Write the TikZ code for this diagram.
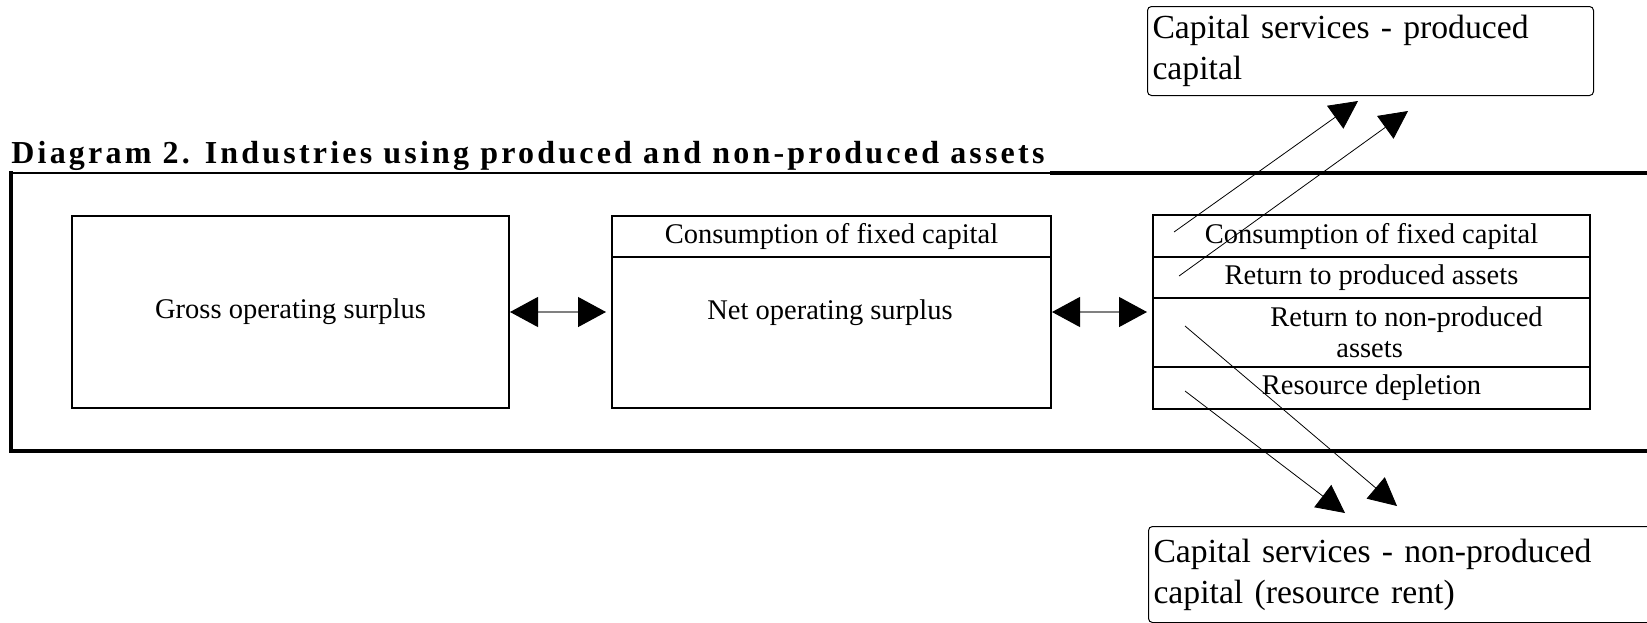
\documentclass[tikz,border=0pt]{standalone}
\usepackage{fontspec}
\setmainfont{Liberation Serif}
\newfontfamily\titlefont{Liberation Serif}[LetterSpace=10]
\usetikzlibrary{arrows.meta,calc}
\newcommand{\bodysize}{\fontsize{14.25}{15.5}\selectfont}
\newcommand{\capsize}{\fontsize{16.85}{20.5}\selectfont}
\tikzset{
  cell/.style={draw,line width=1pt,inner sep=0pt,font=\bodysize,align=center},
  txt/.style={inner sep=0pt,font=\bodysize,align=left},
  capbox/.style={draw,line width=.5pt,rounded corners=2pt,align=left,
                 font=\capsize,inner xsep=2.5pt,anchor=north west},
  frame/.style={line width=2pt},
  link/.style={{Triangle[length=14pt,width=15pt,color=black]}-{Triangle[length=14pt,width=15pt,color=black]},
               draw=black!50,line width=.6pt},
  flow/.style={-{Triangle[length=14pt,width=14pt]},line width=.4pt},
}

\begin{document}
\begin{tikzpicture}[x=0.5pt,y=-0.5pt]
  \useasboundingbox (0,0) rectangle (1647,622);
  % title and frame
  \node[anchor=base west,inner sep=0pt,font=\titlefont\bfseries\fontsize{16}{18}\selectfont]
    (title) at (11,163) {Diagram 2. Industries using produced and non-produced assets};
  \draw[line width=1pt] (11,173) -- (1050,173);
  \draw[frame] (1050,173) -- (1660,173);
  \draw[frame] (11,171) -- (11,451) -- (1660,451);
  % gross operating surplus
  \node[cell,minimum width=218.5pt,minimum height=96pt] (gos) at (290.5,312) {Gross operating surplus};
  % net operating surplus
  \node[cell,minimum width=219.5pt,minimum height=20.5pt] (netcfc) at (831.5,236.5) {Consumption of fixed capital};
  \node[cell,minimum width=219.5pt,minimum height=75.5pt] (netnos) at (831.5,332.5) {};
  \node[txt] (nostxt) at (830,313) {Net operating surplus};
  % split of the surplus
  \node[cell,minimum width=218.5pt,minimum height=21pt] (rcfc) at (1371.5,236) {Consumption of fixed capital};
  \node[cell,minimum width=218.5pt,minimum height=20.5pt] (rret) at (1371.5,277.5) {Return to produced assets};
  \node[cell,minimum width=218.5pt,minimum height=34.5pt] (rnon) at (1371.5,332.5) {};
  \node[txt,anchor=west] (rnontxt) at ([xshift=59pt]rnon.west) {Return to non-produced\\\hspace*{33pt}assets};
  \node[cell,minimum width=218.5pt,minimum height=21pt] (rdep) at (1371.5,388) {Resource depletion};
  % capital services
  \node[capbox,text width=218pt,minimum height=44.5pt] (capprod) at (1147,6)
    {Capital services - produced\\capital};
  \node[capbox,text width=260pt,minimum height=48pt] (capnon) at (1148,526)
    {Capital services - non-produced\\capital (resource rent)};
  \draw[link,shorten >=2.5pt] (gos.east) -- (gos.east -| netnos.west);
  \draw[link,shorten >=2.5pt] (netnos.east |- gos.east) -- (rret.west |- gos.east);
  % flows out of the table
  \coordinate (up1) at (1174,232);
  \coordinate (up2) at (1179,276);
  \coordinate (dn1) at (1185,326);
  \coordinate (dn2) at (1185,391);
  \coordinate (tip1) at (1358,101);
  \coordinate (tip2) at (1408,111);
  \coordinate (tip3) at (1397,506);
  \coordinate (tip4) at (1345,513);
  \draw[flow] (up1) -- (tip1);
  \draw[flow] (up2) -- (tip2);
  \draw[flow] (dn1) -- (tip3);
  \draw[flow] (dn2) -- (tip4);
\end{tikzpicture}
\end{document}
